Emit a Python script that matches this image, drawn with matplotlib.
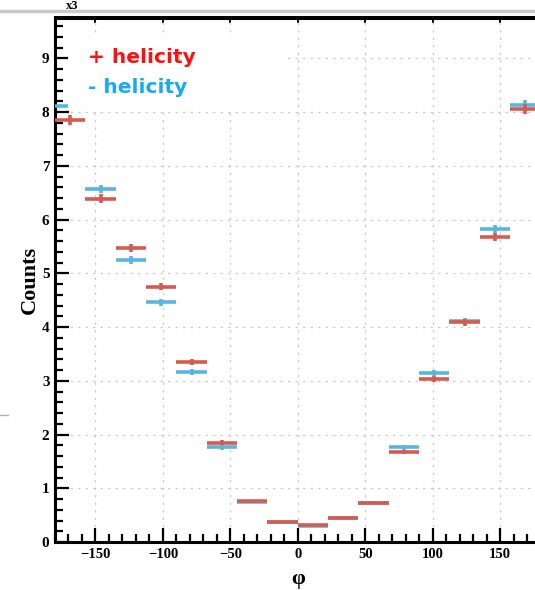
import numpy as np
import matplotlib
matplotlib.use("Agg")
import matplotlib.pyplot as plt
from matplotlib.patches import Rectangle
from matplotlib.ticker import MultipleLocator, NullLocator

# phi bins: 16 bins of 22.5 deg over [-180, 180]
bin_edges = np.linspace(-180, 180, 17)
bin_centers = 0.5 * (bin_edges[:-1] + bin_edges[1:])

# counts per bin, in units of 10^3
pos_helicity = [7.85, 6.39, 5.47, 4.75, 3.35, 1.85, 0.76, 0.38,
                0.31, 0.44, 0.73, 1.68, 3.04, 4.09, 5.67, 8.06]
neg_helicity = [8.12, 6.57, 5.25, 4.46, 3.17, 1.76, 0.75, 0.37,
                0.30, 0.44, 0.73, 1.76, 3.15, 4.11, 5.83, 8.14]

legend_labels = ["+ helicity", "- helicity"]

red = "#d65a50"
blue = "#5ab4e0"

plt.rcParams["font.family"] = ["Liberation Serif", "DejaVu Serif"]
plt.rcParams["font.weight"] = "bold"

fig = plt.figure(figsize=(5.35, 5.9), dpi=100)
ax = fig.add_axes([55 / 535, 48 / 590, 485.5 / 535, 524.5 / 590])

half_width = 0.5 * (bin_edges[1] - bin_edges[0])
for vals, col, z in [(neg_helicity, blue, 3), (pos_helicity, red, 4)]:
    vals = np.array(vals)
    err = np.sqrt(vals * 1000.0) / 1000.0
    ax.errorbar(bin_centers, vals, xerr=half_width, yerr=err, fmt="none",
                ecolor=col, elinewidth=2.6, capsize=0, zorder=z)

ax.set_xlim(-180, 180)
ax.set_ylim(0, 9.76)

ax.xaxis.set_major_locator(MultipleLocator(50))
ax.xaxis.set_minor_locator(MultipleLocator(10))
ax.yaxis.set_major_locator(MultipleLocator(1))
ax.yaxis.set_minor_locator(MultipleLocator(0.2))

ax.grid(True, which="major", color="#cccccc", linestyle=(0, (2, 4)), linewidth=0.9)
ax.set_axisbelow(True)

ax.tick_params(which="both", direction="in", width=1.6, colors="black",
               top=False, right=False)
ax.tick_params(which="major", length=10)
ax.tick_params(which="minor", length=6)
ax.tick_params(axis="x", labelsize=10.5, pad=4)
ax.tick_params(axis="y", labelsize=11, pad=4)

top = ax.secondary_xaxis("top")
top.xaxis.set_major_locator(MultipleLocator(50))
top.xaxis.set_minor_locator(NullLocator())
top.tick_params(which="both", direction="in", length=4, width=1.4, labeltop=False)
top.spines["top"].set_linewidth(2.2)

for side in ["left", "bottom", "top"]:
    ax.spines[side].set_linewidth(2.2)
ax.spines["right"].set_visible(False)

ax.set_ylabel("Counts", fontweight="bold", fontsize=16, labelpad=1)
ax.set_xlabel("φ", fontweight="bold", fontsize=16, labelpad=6)

# white legend box
ax.add_patch(Rectangle((-170, 8.03), 162, 1.45, facecolor="white",
                       edgecolor="none", zorder=5))
ax.text(-155.5, 9.01, legend_labels[0], color="#ff1010", fontsize=14.5,
        fontweight="bold", fontfamily="DejaVu Sans", va="center", zorder=6)
ax.text(-155.5, 8.46, legend_labels[1], color="#18aaf0", fontsize=14.5,
        fontweight="bold", fontfamily="DejaVu Sans", va="center", zorder=6)

# exponent label and frame line at the top
fig.text(66 / 535, 1.0, "x3", fontweight="bold", fontsize=9,
         va="top", ha="left")
fig.add_artist(plt.Line2D([0, 1], [1 - 10.5 / 590] * 2, color="#c8c8c8",
                          linewidth=2.5, transform=fig.transFigure))
fig.add_artist(plt.Line2D([0, 8 / 535], [1 - 415 / 590] * 2, color="#b0b0b0",
                          linewidth=1.0, transform=fig.transFigure))

fig.savefig("out.png", dpi=100)
